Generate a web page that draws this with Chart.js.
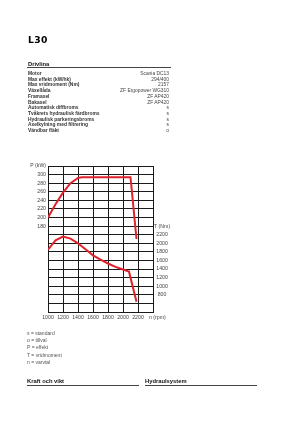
<!DOCTYPE html>
<html>
<head>
<meta charset="utf-8">
<script src="https://cdn.jsdelivr.net/npm/chart.js@4/dist/chart.umd.min.js"></script>
<style>
  body { margin: 0; width: 300px; height: 425px; background: #fff; font-family: "Liberation Sans", Arial, sans-serif; position: relative; overflow: hidden; }
  #page { position: absolute; left: 0; top: 0; width: 300px; height: 425px; will-change: transform; }
  .abs { position: absolute; white-space: nowrap; }
  .title { left: 28px; top: 34px; font-family: "DejaVu Sans", sans-serif; font-weight: 900; font-size: 9.2px; letter-spacing: 0.4px; color: #000; }
  .head { font-weight: bold; font-size: 5.8px; line-height: 6px; color: #111; }
  .rule { position: absolute; height: 1.2px; background: #444; }
  .row { position: absolute; left: 28px; width: 141px; font-size: 4.9px; color: #444; line-height: 5px; white-space: nowrap; }
  .row b { float: left; font-weight: bold; color: #333; }
  .row span { float: right; }
  .legend { left: 27px; font-size: 5px; color: #555; line-height: 5px; }
  #chartBox { position: absolute; left: 28px; top: 156px; }
</style>
</head>
<body>
<div id="page">
<div class="abs title">L30</div>

<div class="abs head" style="left:28px;top:60.5px;">Drivlina</div>
<div class="rule" style="left:27px;top:67px;width:144px;"></div>
<div id="spec"></div>

<div id="chartBox"><canvas id="curveChart" width="150" height="170"></canvas></div>

<div class="abs legend" style="top:330.8px;">s = standard</div>
<div class="abs legend" style="top:338.2px;">o = tillval</div>
<div class="abs legend" style="top:345.2px;">P = effekt</div>
<div class="abs legend" style="top:352.5px;">T = vridmoment</div>
<div class="abs legend" style="top:359.8px;">n = varvtal</div>

<div class="abs head" style="left:27px;top:377.7px;">Kraft och vikt</div>
<div class="rule" style="left:27px;top:385px;width:112px;"></div>
<div class="abs head" style="left:145px;top:377.7px;">Hydraulsystem</div>
<div class="rule" style="left:145px;top:385px;width:112px;"></div>
</div>

<script>
// spec table
const specLabels = ['Motor', 'Max effekt (kW/hk)', 'Max vridmoment (Nm)', 'Växellåda', 'Framaxel', 'Bakaxel',
  'Automatisk diffbroms', 'Tvåkrets hydraulisk färdbroms', 'Hydraulisk parkeringsbroms', 'Axelkylning med filtrering', 'Vändbar fläkt'];
const specValues = ['Scania DC13', '294/400', '2157', 'ZF Ergopower WG310', 'ZF AP420', 'ZF AP420', 's', 's', 's', 's', 'o'];

// curves
const rpmPower = [1000, 1100, 1200, 1300, 1400, 1450, 2100, 2180];
const powerKW = [200, 231, 258, 280, 292, 294, 294, 150];
const rpmTorque = [1000, 1100, 1200, 1300, 1400, 1500, 1600, 1700, 1800, 1900, 2000, 2080, 2180];
const torqueNm = [1850, 2070, 2157, 2110, 2000, 1860, 1720, 1620, 1530, 1450, 1390, 1340, 640];

// axis labels
const powerTicks = [180, 200, 220, 240, 260, 280, 300];
const torqueTicks = [800, 1000, 1200, 1400, 1600, 1800, 2000, 2200];
const rpmTicks = [1000, 1200, 1400, 1600, 1800, 2000, 2200];

const spec = document.getElementById('spec');
specLabels.forEach((label, i) => {
  const row = document.createElement('div');
  row.className = 'row';
  row.style.top = (70.8 + i * 5.74) + 'px';
  row.innerHTML = '<b>' + label + '</b><span>' + specValues[i] + '</span>';
  spec.appendChild(row);
});

const red = '#e0202a';
const gridColor = '#1a1a1a';
const tickFont = { family: 'Liberation Sans', size: 5.2 };

new Chart(document.getElementById('curveChart'), {
  type: 'line',
  data: {
    datasets: [
      {
        label: 'P',
        data: rpmPower.map((n, i) => ({ x: n, y: powerKW[i] })),
        yAxisID: 'p',
        borderColor: red,
        borderWidth: 2,
        pointRadius: 0,
        tension: 0
      },
      {
        label: 'T',
        data: rpmTorque.map((n, i) => ({ x: n, y: torqueNm[i] })),
        yAxisID: 't',
        borderColor: red,
        borderWidth: 2,
        pointRadius: 0,
        tension: 0
      }
    ]
  },
  options: {
    responsive: false,
    animation: false,
    devicePixelRatio: 1,
    layout: { padding: { top: 10 } },
    plugins: { legend: { display: false }, tooltip: { enabled: false } },
    scales: {
      x: {
        type: 'linear',
        min: 1000,
        max: 2400,
        afterFit: (axis) => { axis.height = 14; },
        grid: { color: gridColor, lineWidth: 1, drawTicks: false },
        border: { color: gridColor },
        ticks: {
          stepSize: 200, autoSkip: false, maxRotation: 0, padding: 2,
          color: '#444', font: tickFont,
          // leading spaces push the unit label a bit right of the last gridline
          callback: (v) => v === 2400 ? '      n (rpm)' : (rpmTicks.includes(v) ? String(v) : '')
        }
      },
      p: {
        type: 'linear',
        position: 'left',
        min: -20,
        max: 320,
        afterFit: (axis) => { axis.width = 20; },
        grid: { color: gridColor, lineWidth: 1, drawTicks: false },
        border: { color: gridColor },
        ticks: {
          stepSize: 20, autoSkip: false, padding: 2,
          color: '#444', font: tickFont,
          callback: (v) => v === 320 ? 'P (kW)' : (powerTicks.includes(v) ? String(v) : '')
        }
      },
      t: {
        type: 'linear',
        position: 'right',
        min: 400,
        max: 3800,
        afterFit: (axis) => { axis.width = 25; },
        grid: { display: false, drawTicks: false },
        border: { color: gridColor },
        ticks: {
          stepSize: 200, autoSkip: false, padding: 1, crossAlign: 'center',
          color: '#444', font: tickFont,
          callback: (v) => v === 2400 ? 'T (Nm)' : (torqueTicks.includes(v) ? String(v) : '')
        }
      }
    }
  }
});
</script>
</body>
</html>
